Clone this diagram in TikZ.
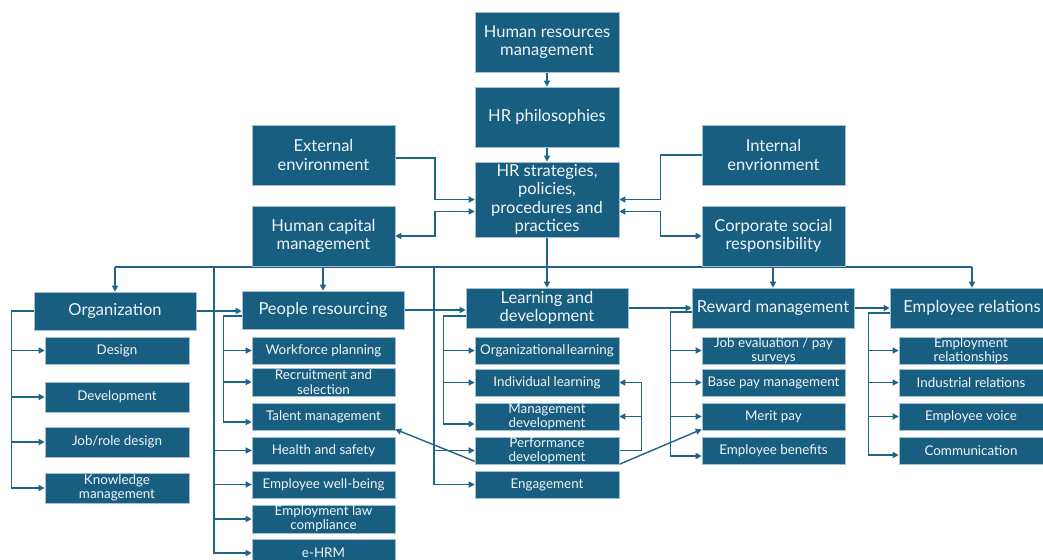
\documentclass[tikz,border=0pt]{standalone}
\usepackage{fontspec}
\setmainfont{Lato}
\usetikzlibrary{arrows.meta,calc,backgrounds}
\definecolor{boxfill}{HTML}{185E80}
\definecolor{boxedge}{HTML}{A3C0CF}
\definecolor{wire}{HTML}{1E6489}
\definecolor{ink}{HTML}{F2F6F8}
\begin{document}
\begin{tikzpicture}[x=1pt,y=-1pt,
  box/.style={draw=boxedge, line width=0.6pt, fill=boxfill, text=ink, align=center, inner sep=0pt},
  big/.style={box, font=\fontsize{16.5}{18.5}\selectfont},
  sub/.style={box, font=\fontsize{13.4}{14.3}\selectfont},
  wline/.style={draw=wire, line width=1.4pt},
  arr/.style={wline, -{Triangle[length=6pt,width=6pt]}},
  arrs/.style={wline, {Triangle[length=6pt,width=6pt]}-{Triangle[length=6pt,width=6pt]}}]
\useasboundingbox (0,0) rectangle (1043,559);

% top chain
\node[big, minimum width=144, minimum height=60] (hrm) at (547,42) {Human resources\\management};
\node[big, minimum width=144, minimum height=60] (hrp) at (547,117) {HR philosophies};
\node[big, minimum width=144, minimum height=75] (hrs) at (547,199.5) {HR strategies,\\policies,\\procedures and\\practices};
\node[big, minimum width=143, minimum height=60] (ext) at (323.5,155) {External\\environment};
\node[big, minimum width=143, minimum height=60] (int) at (773.5,155) {Internal\\envrionment};
\node[big, minimum width=143, minimum height=60] (hcm) at (323.5,236) {Human capital\\management};
\node[big, minimum width=143, minimum height=60] (csr) at (773.5,236) {Corporate social\\responsibility};

% main areas
\node[big, minimum width=162, minimum height=38] (org) at (115,311) {Organization};
\node[big, minimum width=162, minimum height=38] (pr) at (323,310) {People resourcing};
\node[big, minimum width=162, minimum height=40] (ld) at (547,308) {Learning and\\development};
\node[big, minimum width=162, minimum height=40] (rew) at (773,308) {Reward management};
\node[big, minimum width=164, minimum height=40] (er) at (972,308) {Employee relations};

% organization
\node[sub, minimum width=144, minimum height=27] (design) at (117,350.5) {Design};
\node[sub, minimum width=144, minimum height=30] (dev) at (117,397) {Development};
\node[sub, minimum width=144, minimum height=30] (job) at (117,442) {Job/role design};
\node[sub, minimum width=144, minimum height=30] (kn) at (117,488) {Knowledge\\management};

% people resourcing
\node[sub, minimum width=143, minimum height=27] (wp) at (323.5,350.5) {Workforce planning};
\node[sub, minimum width=143, minimum height=28] (rec) at (323.5,382) {Recruitment and\\selection};
\node[sub, minimum width=143, minimum height=27] (tal) at (323.5,416.5) {Talent management};
\node[sub, minimum width=143, minimum height=27] (hs) at (323.5,450.5) {Health and safety};
\node[sub, minimum width=143, minimum height=27] (wb) at (323.5,484.5) {Employee well-being};
\node[sub, minimum width=143, minimum height=28] (law) at (323.5,519) {Employment law\\compliance};
\node[sub, minimum width=143, minimum height=28] (ehrm) at (323.5,553) {e-HRM};

% learning and development
\node[sub, minimum width=144, minimum height=27] (ol) at (547,350.5) {Organizational\hspace{0.1em}learning};
\node[sub, minimum width=144, minimum height=27] (il) at (547,382.5) {Individual learning};
\node[sub, minimum width=144, minimum height=27] (md) at (547,416.5) {Management\\development};
\node[sub, minimum width=144, minimum height=27] (perf) at (547,450.5) {Performance\\development};
\node[sub, minimum width=144, minimum height=27] (eng) at (547,484.5) {Engagement};

% reward management
\node[sub, minimum width=143, minimum height=27] (je) at (773.5,350.5) {Job evaluation / pay\\surveys};
\node[sub, minimum width=143, minimum height=27] (bp) at (773.5,382.5) {Base pay management};
\node[sub, minimum width=143, minimum height=27] (mp) at (773.5,416.5) {Merit pay};
\node[sub, minimum width=143, minimum height=27] (eb) at (773.5,450.5) {Employee benefits};

% employee relations
\node[sub, minimum width=144, minimum height=27] (rel) at (971,350.5) {Employment\\relationships};
\node[sub, minimum width=144, minimum height=27] (ir) at (971,382.5) {Industrial relations};
\node[sub, minimum width=144, minimum height=27] (ev) at (971,416.5) {Employee voice};
\node[sub, minimum width=144, minimum height=27] (com) at (971,450.5) {Communication};

\begin{scope}[on background layer]
  \fill[white] (0,0) rectangle (1043,559);
  % strategy level
  \draw[arr] (hrm) -- (hrp);
  \draw[arr] (hrp) -- (hrs);
  \coordinate (lm) at ($(ext.east)!.5!(hrs.west)$);
  \coordinate (rm) at ($(hrs.east)!.5!(int.west)$);
  \draw[arr] ([yshift=-3pt]ext.east) -| (lm |- hrs.west) -- (hrs.west);
  \draw[arrs] ([yshift=-12pt]hrs.west) -| (lm |- hcm.east) -- (hcm.east);
  \draw[arr] (int.west) -| (rm |- hrs.east) -- (hrs.east);
  \draw[arrs] ([yshift=-12pt]hrs.east) -| (rm |- csr.west) -- (csr.west);

  % distribution bus
  \coordinate (bus) at (0,267);
  \draw[wline] (org.north |- bus) -- (er.north |- bus);
  \draw[arr] (org.north |- bus) -- (org.north);
  \draw[arr] (pr.north |- bus) -- (pr.north);
  \draw[arr] (hrs.south) -- (ld.north);
  \draw[arr] (rew.north |- bus) -- (rew.north);
  \draw[arr] (er.north |- bus) -- (er.north);

  \coordinate (pv) at (214,267);
  \draw[arr] (pv) |- (ehrm.west);
  \foreach \n in {hs,wb,law} \draw[arr] (pv |- \n.west) -- (\n.west);
  \coordinate (lv) at (434,267);
  \draw[arr] (lv) |- (eng.west);
  \draw[arr] (lv |- perf.west) -- (perf.west);

  % links between areas
  \draw[arr] (org.east) -- (org.east -| pr.west);
  \draw[arr] (pr.east) -- (pr.east -| ld.west);
  \draw[arr] (ld.east) -- (ld.east -| rew.west);
  \draw[arr] (rew.east) -- (rew.east -| er.west);

  % area branches
  \coordinate (ob) at ([xshift=-22pt]org.west);
  \draw[arr] (org.west) -- (ob) |- (kn.west);
  \foreach \n in {design,dev,job} \draw[arr] (ob |- \n.west) -- (\n.west);

  \coordinate (pb) at ([xshift=-18pt,yshift=-6pt]pr.west);
  \draw[arr] ([yshift=-6pt]pr.west) -- (pb) |- ([yshift=-5.5pt]tal.west);
  \foreach \n in {wp,rec} \draw[arr] (pb |- \n.west) -- (\n.west);

  \coordinate (lb) at ([xshift=-22pt,yshift=-8pt]ld.west);
  \draw[arr] ([yshift=-8pt]ld.west) -- (lb) |- ([yshift=-7.5pt]md.west);
  \foreach \n in {ol,il} \draw[arr] (lb |- \n.west) -- (\n.west);

  \coordinate (rb) at ([xshift=-21pt,yshift=-4pt]rew.west);
  \draw[arr] ([yshift=-4pt]rew.west) -- (rb) |- ([yshift=-5.5pt]eb.west);
  \foreach \n in {je,bp,mp} \draw[arr] (rb |- \n.west) -- (\n.west);

  \coordinate (eb2) at ([xshift=-21pt,yshift=-5pt]er.west);
  \draw[arr] ([yshift=-5pt]er.west) -- (eb2) |- ([yshift=-4.5pt]com.west);
  \foreach \n in {rel,ir,ev} \draw[arr] (eb2 |- \n.west) -- (\n.west);

  % performance development feedback
  \coordinate (pf) at ([xshift=22pt]perf.east);
  \draw[arr] (perf.east) -- (pf) |- (il.east);
  \draw[arr] (pf |- md.east) -- (md.east);
  \draw[arr] ([yshift=3pt]perf.south west) -- ([yshift=1pt]tal.south east);
  \draw[arr] (perf.south east) -- ([yshift=1pt]mp.south west);
\end{scope}
\end{tikzpicture}
\end{document}
